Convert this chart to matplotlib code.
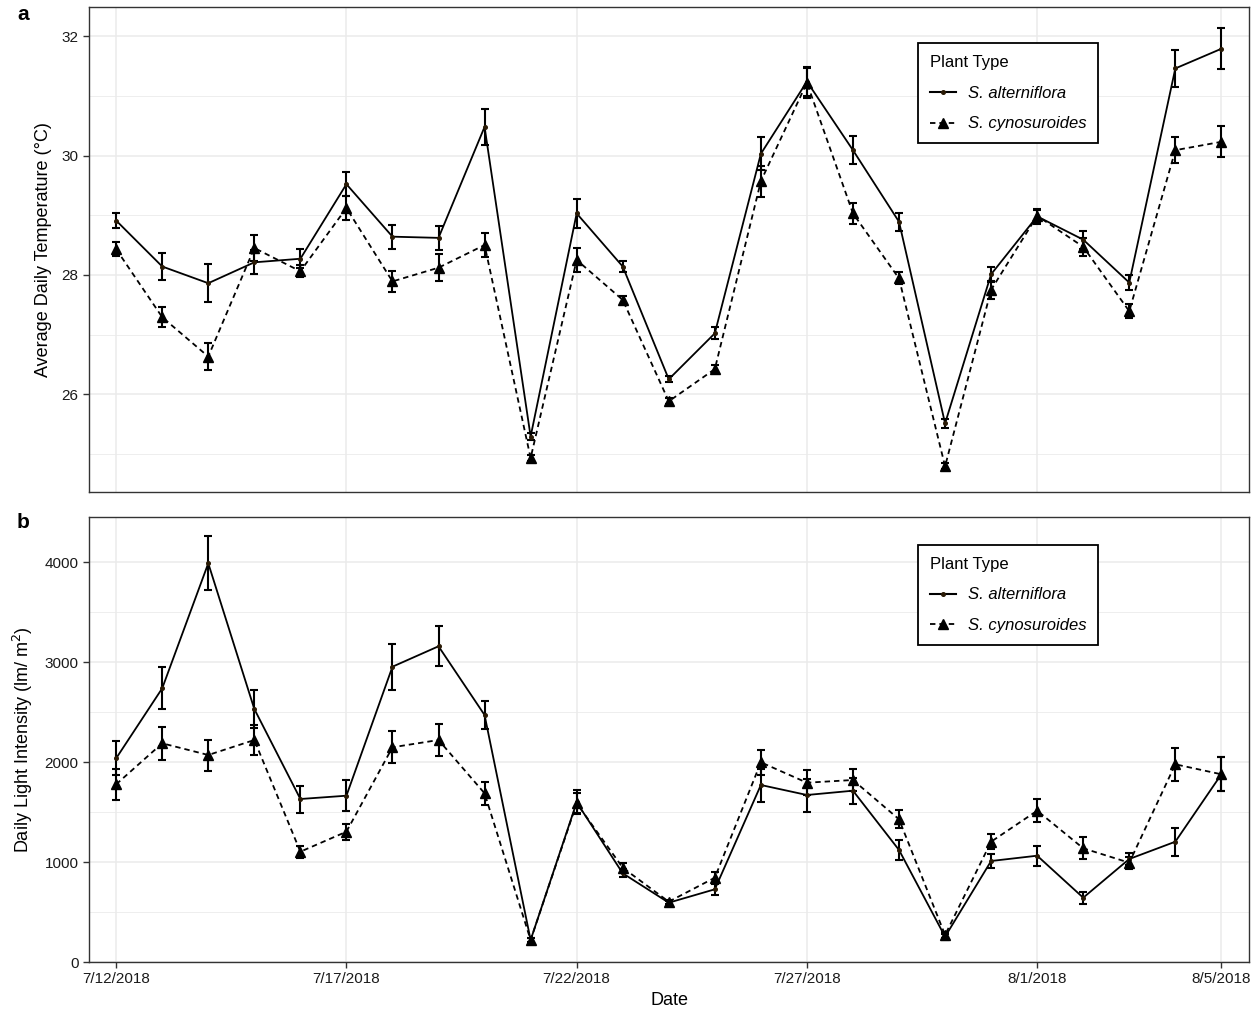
import numpy as np
import pandas as pd
import matplotlib
matplotlib.use('Agg')
import matplotlib.pyplot as plt
from matplotlib.lines import Line2D

plt.rcParams['font.family'] = ['Liberation Sans', 'DejaVu Sans']

# 日期 (7/12/2018 - 8/5/2018)
dates = pd.date_range('2018-07-12', '2018-08-05', freq='D')
tick_dates = pd.to_datetime(['2018-07-12', '2018-07-17', '2018-07-22',
                             '2018-07-27', '2018-08-01', '2018-08-05'])
tick_labels = ['7/12/2018', '7/17/2018', '7/22/2018', '7/27/2018', '8/1/2018', '8/5/2018']

# 温度 (a)
temp_alt = [28.91, 28.14, 27.86, 28.21, 28.27, 29.52, 28.64, 28.62, 30.48, 25.29,
            29.03, 28.14, 26.25, 27.02, 30.03, 31.24, 30.09, 28.89, 25.51, 28.01,
            28.98, 28.59, 27.87, 31.46, 31.79]
temp_alt_err = [0.12, 0.22, 0.32, 0.20, 0.16, 0.20, 0.20, 0.20, 0.30, 0.06,
                0.24, 0.10, 0.05, 0.10, 0.28, 0.25, 0.24, 0.15, 0.07, 0.13,
                0.12, 0.15, 0.12, 0.31, 0.34]
temp_cyn = [28.43, 27.29, 26.63, 28.45, 28.06, 29.12, 27.89, 28.12, 28.50, 24.93,
            28.25, 27.58, 25.88, 26.42, 29.57, 31.22, 29.03, 27.94, 24.79, 27.75,
            28.99, 28.47, 27.39, 30.09, 30.23]
temp_cyn_err = [0.12, 0.17, 0.22, 0.21, 0.10, 0.20, 0.18, 0.23, 0.20, 0.05,
                0.20, 0.07, 0.05, 0.07, 0.26, 0.25, 0.18, 0.10, 0.05, 0.15,
                0.10, 0.15, 0.12, 0.22, 0.26]

# 光照强度 (b)
light_alt = [2037, 2737, 3987, 2530, 1630, 1663, 2953, 3157, 2470, 220,
             1597, 887, 593, 727, 1770, 1670, 1713, 1120, 253, 1010,
             1063, 643, 1030, 1203, 1877]
light_alt_err = [170, 210, 270, 190, 135, 155, 230, 200, 140, 20,
                 120, 40, 20, 60, 165, 165, 130, 100, 30, 70,
                 100, 60, 60, 140, 170]
light_cyn = [1777, 2187, 2070, 2220, 1103, 1303, 2147, 2220, 1687, 220,
             1587, 943, 603, 843, 1997, 1793, 1820, 1427, 270, 1203,
             1513, 1137, 993, 1977, 1877]
light_cyn_err = [155, 165, 155, 150, 60, 80, 160, 160, 115, 20,
                 100, 50, 20, 60, 125, 125, 110, 90, 30, 75,
                 115, 110, 60, 165, 170]

fig = plt.figure(figsize=(12.57, 10.10), dpi=100)
ax1 = fig.add_axes([89 / 1257, 1 - 492 / 1010, 1160 / 1257, 485 / 1010])
ax2 = fig.add_axes([89 / 1257, 1 - 962 / 1010, 1160 / 1257, 445 / 1010])

dash = (0, (3, 2.2))
dot_color = '#2a1a05'


def draw_panel(ax, y1, e1, y2, e2):
    ax.errorbar(dates, y1, yerr=e1, fmt='none', ecolor='black',
                elinewidth=1.5, capsize=3.2, capthick=1.5, zorder=3)
    ax.errorbar(dates, y2, yerr=e2, fmt='none', ecolor='black',
                elinewidth=1.5, capsize=3.2, capthick=1.5, zorder=3)
    ax.plot(dates, y1, color='black', lw=1.3, zorder=4)
    ax.plot(dates, y1, ls='none', marker='o', ms=2.6, color=dot_color, zorder=5)
    ax.plot(dates, y2, color='black', lw=1.3, ls=dash, zorder=4)
    ax.plot(dates, y2, ls='none', marker='^', ms=7, color='black', zorder=5)

    ax.set_xlim(dates[0] - pd.Timedelta(days=0.59), dates[-1] + pd.Timedelta(days=0.6))
    ax.set_xticks(tick_dates)
    ax.grid(True, which='major', color='#EBEBEB', lw=1.1, zorder=0)
    ax.grid(True, which='minor', axis='y', color='#EBEBEB', lw=0.6, zorder=0)
    ax.set_axisbelow(True)
    for s in ax.spines.values():
        s.set_color('#333333')
        s.set_linewidth(1.0)
    ax.tick_params(axis='both', which='major', color='#333333', length=4,
                   width=1.0, labelsize=11, labelcolor='#1a1a1a')
    ax.tick_params(axis='y', which='minor', length=0)

    handles = [
        Line2D([], [], color='black', lw=1.5, marker='o', ms=2.6, mfc=dot_color, mec=dot_color),
        Line2D([], [], color='black', lw=1.3, ls=dash, marker='^', ms=7),
    ]
    return handles


h = draw_panel(ax1, temp_alt, temp_alt_err, temp_cyn, temp_cyn_err)
ax1.set_ylim(24.36, 32.49)
ax1.set_yticks([26, 28, 30, 32])
ax1.set_yticks([25, 27, 29, 31], minor=True)
ax1.set_xticklabels([])
ax1.tick_params(axis='x', length=0)
ax1.set_ylabel('Average Daily Temperature (°C)', fontsize=13, labelpad=7)

draw_panel(ax2, light_alt, light_alt_err, light_cyn, light_cyn_err)
ax2.set_ylim(0, 4450)
ax2.set_yticks([0, 1000, 2000, 3000, 4000])
ax2.set_yticks([500, 1500, 2500, 3500], minor=True)
ax2.set_xticklabels(tick_labels)
ax2.set_ylabel('Daily Light Intensity (lm/ m$^2$)', fontsize=13, labelpad=7)
ax2.set_xlabel('Date', fontsize=13, labelpad=4)

labels = ['S. alterniflora', 'S. cynosuroides']
for ax, top in [(ax1, 1 - (43 - 7) / 485), (ax2, 1 - (545 - 517) / 445)]:
    leg = ax.legend(h, labels, title='Plant Type', loc='upper left',
                    bbox_to_anchor=((918 - 89) / 1160, top), borderaxespad=0,
                    frameon=True, fancybox=False, framealpha=1, edgecolor='black',
                    title_fontsize=12, handlelength=1.6,
                    handletextpad=0.7, borderpad=0.7, labelspacing=0.95,
                    alignment='left', prop={'style': 'italic', 'size': 12})
    leg.get_frame().set_linewidth(1.3)

fig.text(17 / 1257, 1 - 15 / 1010, 'a', fontsize=15, fontweight='bold', va='center')
fig.text(17 / 1257, 1 - 523 / 1010, 'b', fontsize=15, fontweight='bold', va='center')

fig.savefig('out.png', dpi=100)
